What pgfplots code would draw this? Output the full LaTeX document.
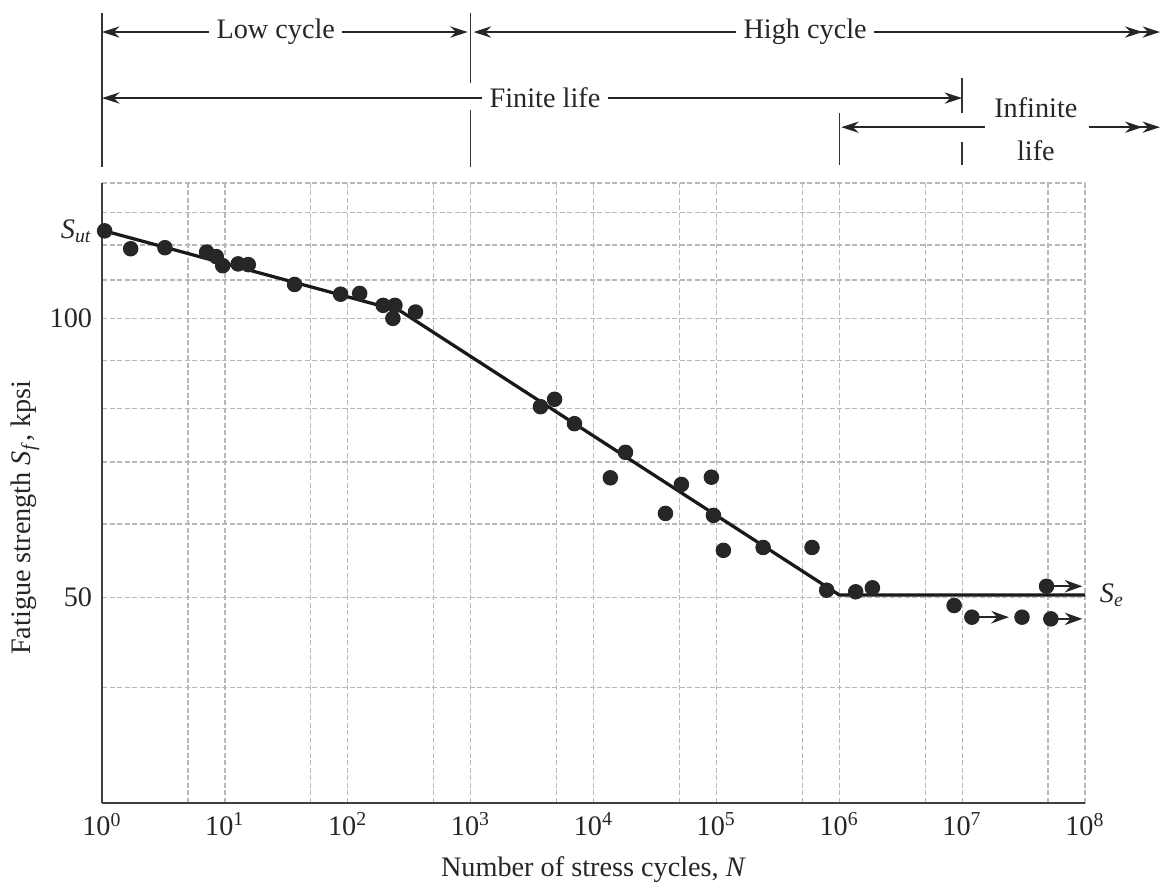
\documentclass[border=0pt]{standalone}
\usepackage{pgfplots}
\pgfplotsset{compat=1.18}
\usepackage{pgfplotstable}
\usepackage{fontspec}
\setmainfont{Liberation Serif}
\usetikzlibrary{arrows.meta}

% test points: N (cycles), S (kpsi)
\pgfplotstableread{
N S
1.05 124.3
1.71 118.9
3.25 119.2
7.1 117.9
8.5 116.6
9.6 114.0
12.8 114.5
15.5 114.3
36.9 108.8
87.4 106.2
125 106.4
194 103.3
242 103.3
233 100.0
356 101.6
3700 80.3
4820 81.8
7000 77.0
13700 67.3
18200 71.7
38500 61.6
51900 66.2
91000 67.4
94600 61.3
114000 56.2
240000 56.6
600000 56.6
790000 50.9
1360000 50.7
1860000 51.2
8600000 49.0
12000000 47.6
30700000 47.6
48600000 51.4
52700000 47.4
}\tests

\begin{document}
\fontsize{11.3}{13.5}\selectfont
\begin{tikzpicture}[every node/.style={text=black!85}]
\begin{axis}[
    scale only axis,
    width=393.2pt, height=248pt,
    xmode=log, ymode=log,
    xmin=1, xmax=1e8,
    ymin=30, ymax=140,
    axis x line*=bottom, axis y line*=left,
    axis line style={black!75, line width=1pt},
    xtick={1,10,100,1000,1e4,1e5,1e6,1e7,1e8},
    xticklabels={10\textsuperscript{0},10\textsuperscript{1},10\textsuperscript{2},10\textsuperscript{3},10\textsuperscript{4},10\textsuperscript{5},10\textsuperscript{6},10\textsuperscript{7},10\textsuperscript{8}},
    minor xtick={5,50,500,5e3,5e4,5e5,5e6,5e7},
    ytick={50,100}, yticklabels={50,100},
    minor ytick={30,40,60,70,80,90,110,120,130,140},
    extra y ticks={124.3},
    extra y tick labels={\textit{S}\textsubscript{\textit{ut}}},
    extra y tick style={grid=none},
    grid=both,
    major grid style={black!28, dash pattern=on 2pt off 1pt, line width=0.5pt},
    minor grid style={black!28, dash pattern=on 2pt off 1pt, line width=0.5pt},
    major tick length=0pt, minor tick length=0pt,
    tick label style={font=\fontsize{11.3}{13.5}\selectfont, text=black!85},
    clip=false,
]
% S-N line
\addplot[black!90, line width=1.3pt] coordinates {(1,124.5)(270,101.8)(1e6,50.3)(1e8,50.3)};
% data points
\addplot[only marks, mark=*, mark size=2.9pt, black!85] table[x=N, y=S] {\tests};
% run-outs
\addplot[black!85, line width=0.8pt, -{Stealth[length=7pt,width=5pt]}] coordinates {(4.86e7,51.4)(9.5e7,51.4)};
\addplot[black!85, line width=0.8pt, -{Stealth[length=7pt,width=5pt]}] coordinates {(1.2e7,47.6)(2.4e7,47.6)};
\addplot[black!85, line width=0.8pt, -{Stealth[length=7pt,width=5pt]}] coordinates {(5.27e7,47.4)(9.5e7,47.4)};

% labels
\node[rotate=90] at (rel axis cs:-0.0783,0.46) {Fatigue strength \textit{S}\textsubscript{\textit{f}}, kpsi};
\node at (rel axis cs:0.5,-0.108) {Number of stress cycles, \textit{N}};
\node[anchor=west, xshift=2pt] at (axis cs:1e8,50.3) {\textit{S}\textsubscript{\textit{e}}};

% life regions above the chart
\draw[black!80, line width=0.6pt] (rel axis cs:0,1.274) -- (rel axis cs:0,1.026);
\draw[black!80, line width=0.6pt] (rel axis cs:0.375,1.274) -- (rel axis cs:0.375,1.161);
\draw[black!80, line width=0.6pt] (rel axis cs:0.375,1.118) -- (rel axis cs:0.375,1.026);
\draw[black!80, line width=0.6pt] (rel axis cs:0.75,1.113) -- (rel axis cs:0.75,1.029);
\draw[black!80, line width=0.6pt] (rel axis cs:0.875,1.169) -- (rel axis cs:0.875,1.113);
\draw[black!80, line width=0.6pt] (rel axis cs:0.875,1.066) -- (rel axis cs:0.875,1.029);

\draw[black!85, line width=0.8pt, {Stealth[length=7pt,width=4.5pt]}-{Stealth[length=7pt,width=4.5pt]}] (rel axis cs:0,1.2435) -- node[pos=0.475, fill=white, inner sep=3pt] {Low cycle} (rel axis cs:0.372,1.2435);
\draw[black!85, line width=0.8pt, {Stealth[length=7pt,width=4.5pt]}-{Stealth[length=7pt,width=4.5pt]Stealth[length=7pt,width=4.5pt]}] (rel axis cs:0.378,1.2435) -- node[pos=0.483, fill=white, inner sep=3pt] {High cycle} (rel axis cs:1.0763,1.2435);
\draw[black!85, line width=0.8pt, {Stealth[length=7pt,width=4.5pt]}-{Stealth[length=7pt,width=4.5pt]}] (rel axis cs:0,1.137) -- node[pos=0.515, fill=white, inner sep=3pt] {Finite life} (rel axis cs:0.875,1.137);
\draw[black!85, line width=0.8pt, -{Stealth[length=7pt,width=4.5pt]}] (rel axis cs:0.898,1.090) -- (rel axis cs:0.752,1.090);
\draw[black!85, line width=0.8pt, -{Stealth[length=7pt,width=4.5pt]Stealth[length=7pt,width=4.5pt]}] (rel axis cs:1.004,1.090) -- (rel axis cs:1.0763,1.090);
\node at (rel axis cs:0.950,1.121) {Infinite};
\node at (rel axis cs:0.950,1.0516) {life};

% page frame
\path (rel axis cs:-0.1038,-0.1403) rectangle (rel axis cs:1.0834,1.2952);
\end{axis}
\end{tikzpicture}
\end{document}
